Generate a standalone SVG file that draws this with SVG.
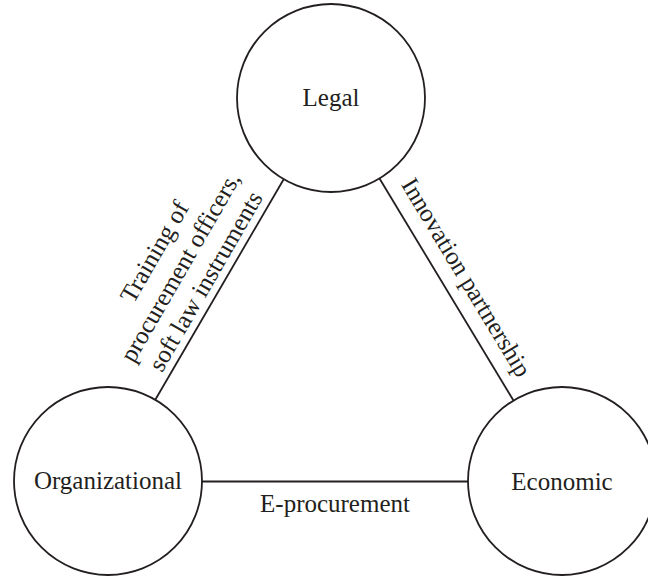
<svg xmlns="http://www.w3.org/2000/svg" width="648" height="577" viewBox="0 0 648 577">
  <style>
    .node { fill: #ffffff; stroke: #231f20; stroke-width: 1.8; }
    .edge { stroke: #231f20; stroke-width: 1.8; fill: none; }
    .label { font-family: "Liberation Serif", "DejaVu Serif", serif; font-size: 25px; fill: #231f20; text-anchor: middle; }
  </style>
  <rect width="648" height="577" fill="#ffffff"/>

  <!-- connectors between the three circles -->
  <g id="connectors">
    <line class="edge" x1="283.7" y1="179.2" x2="155.3" y2="399.8"/>
    <line class="edge" x1="379.5" y1="178.5" x2="513.5" y2="400.5"/>
    <line class="edge" x1="202" y1="481.5" x2="468" y2="481.5"/>
    <g transform="translate(219.5 289.5) rotate(-60)">
      <text class="label" x="0" y="-67">Training of</text>
      <text class="label" x="0" y="-37">procurement officers,</text>
      <text class="label" x="0" y="-8">soft law instruments</text>
    </g>
    <text class="label" transform="translate(446.5 289.5) rotate(58.9)" x="0" y="-15">Innovation partnership</text>
    <text class="label" x="335" y="512">E-procurement</text>
  </g>

  <g id="legal">
    <circle class="node" cx="331" cy="98" r="94"/>
    <text class="label" x="331" y="106">Legal</text>
  </g>

  <g id="organizational">
    <circle class="node" cx="108" cy="481" r="94"/>
    <text class="label" x="108" y="489">Organizational</text>
  </g>

  <g id="economic">
    <circle class="node" cx="562" cy="481" r="94"/>
    <text class="label" x="562" y="490">Economic</text>
  </g>
</svg>
